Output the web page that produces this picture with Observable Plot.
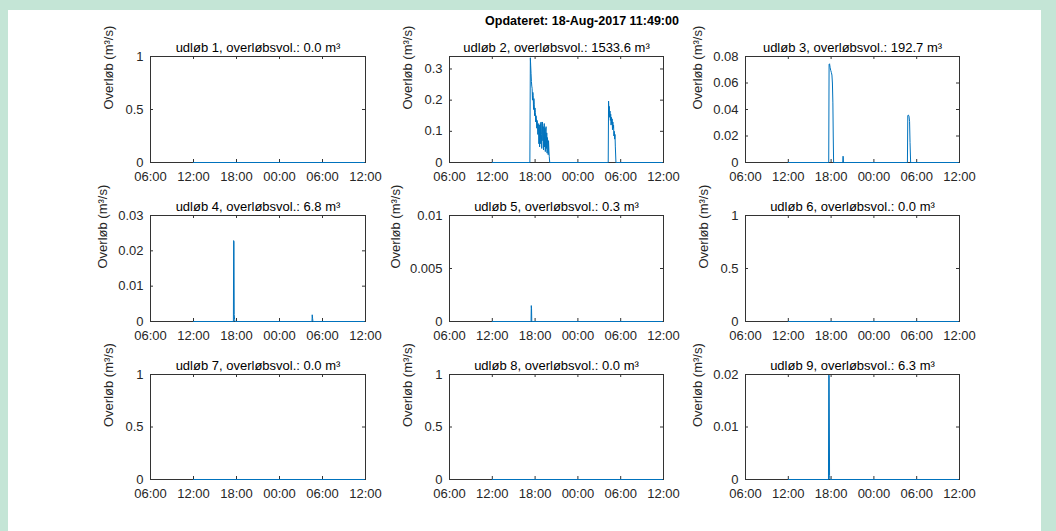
<!DOCTYPE html>
<html>
<head>
<meta charset="utf-8">
<script src="https://cdn.jsdelivr.net/npm/d3@7"></script>
<script src="https://cdn.jsdelivr.net/npm/@observablehq/plot@0.6"></script>
<style>
html, body { margin: 0; padding: 0; background: #c4e5d6; }
#page { position: relative; width: 1056px; height: 531px; overflow: hidden; background: #c4e5d6; font-family: "Liberation Sans", Arial, sans-serif; }
#sheet { position: absolute; left: 8px; top: 10px; width: 1033px; height: 521px; background: #ffffff; }
#maintitle { position: absolute; top: 14px; left: 0; width: 1164px; text-align: center; font-weight: bold; font-size: 12.5px; color: #000; }
.panel { position: absolute; }
</style>
</head>
<body>
<div id="page">
  <div id="sheet"></div>
  <div id="maintitle"></div>
</div>
<script>
// ---------- data ----------
const figureTitle = "Opdateret: 18-Aug-2017 11:49:00";
const panelNames = ["udløb 1", "udløb 2", "udløb 3", "udløb 4", "udløb 5", "udløb 6", "udløb 7", "udløb 8", "udløb 9"];
const overflowVolumes = ["0.0", "1533.6", "192.7", "6.8", "0.3", "0.0", "0.0", "0.0", "6.3"];
const yAxisLabel = "Overløb (m³/s)";

const xTickTimes = ["17 06:00", "17 12:00", "17 18:00", "18 00:00", "18 06:00", "18 12:00"];
const xTickLabels = ["06:00", "12:00", "18:00", "00:00", "06:00", "12:00"];

const yDomainMax = [1, 0.34, 0.08, 0.03, 0.01, 1, 1, 1, 0.02];
const yTickValues = [
  [0, 0.5, 1],
  [0, 0.1, 0.2, 0.3],
  [0, 0.02, 0.04, 0.06, 0.08],
  [0, 0.01, 0.02, 0.03],
  [0, 0.005, 0.01],
  [0, 0.5, 1],
  [0, 0.5, 1],
  [0, 0.5, 1],
  [0, 0.01, 0.02]
];
const yTickLabels = [
  ["0", "0.5", "1"],
  ["0", "0.1", "0.2", "0.3"],
  ["0", "0.02", "0.04", "0.06", "0.08"],
  ["0", "0.01", "0.02", "0.03"],
  ["0", "0.005", "0.01"],
  ["0", "0.5", "1"],
  ["0", "0.5", "1"],
  ["0", "0.5", "1"],
  ["0", "0.01", "0.02"]
];

// times are "day HH:MM" in August 2017
const flatTimes = ["17 12:00", "18 11:49"];
const flatValues = [0, 0];

const udlob2Times = ["17 12:00", "17 17:16", "17 17:20", "17 17:23", "17 17:26", "17 17:29", "17 17:32", "17 17:35", "17 17:38", "17 17:41",
  "17 17:44", "17 17:47", "17 17:50", "17 17:53", "17 17:56", "17 17:59", "17 18:02", "17 18:05", "17 18:08", "17 18:11",
  "17 18:14", "17 18:17", "17 18:20", "17 18:23", "17 18:26", "17 18:29", "17 18:32", "17 18:35", "17 18:38", "17 18:41",
  "17 18:44", "17 18:47", "17 18:50", "17 18:53", "17 18:56", "17 18:59", "17 19:02", "17 19:05", "17 19:08", "17 19:11",
  "17 19:14", "17 19:17", "17 19:20", "17 19:23", "17 19:26", "17 19:29", "17 19:32", "17 19:35", "17 19:38", "17 19:41",
  "17 19:44", "17 19:47", "17 19:50", "17 19:53", "17 19:56", "17 19:59", "17 20:03",
  "18 04:15", "18 04:18", "18 04:21", "18 04:24", "18 04:27", "18 04:30", "18 04:33", "18 04:36", "18 04:39", "18 04:42",
  "18 04:45", "18 04:48", "18 04:51", "18 04:54", "18 04:57", "18 05:00", "18 05:03", "18 05:06", "18 05:09", "18 05:12",
  "18 05:15", "18 05:20", "18 11:49"];
const udlob2Values = [0, 0, 0.336, 0.31, 0.285, 0.26, 0.245, 0.238, 0.2, 0.225,
  0.215, 0.17, 0.205, 0.185, 0.15, 0.175, 0.16, 0.13, 0.15, 0.14,
  0.11, 0.135, 0.125, 0.09, 0.125, 0.115, 0.06, 0.12, 0.05, 0.115,
  0.125, 0.06, 0.13, 0.09, 0.045, 0.12, 0.13, 0.07, 0.115, 0.04,
  0.105, 0.125, 0.05, 0.11, 0.035, 0.1, 0.115, 0.045, 0.095, 0.03,
  0.08, 0.06, 0.025, 0.07, 0.04, 0.02, 0,
  0, 0.197, 0.165, 0.18, 0.145, 0.165, 0.135, 0.155, 0.12, 0.145,
  0.125, 0.14, 0.105, 0.13, 0.11, 0.12, 0.085, 0.1, 0.075, 0.09,
  0.05, 0, 0];

const udlob3Times = ["17 12:00", "17 17:40", "17 17:43", "17 17:47", "17 17:52", "17 17:57", "17 18:02", "17 18:07", "17 18:11", "17 18:15",
  "17 18:18", "17 18:21", "17 19:38", "17 19:40", "17 19:42", "17 19:44",
  "18 04:42", "18 04:45", "18 04:50", "18 04:55", "18 05:00", "18 05:04", "18 05:09", "18 11:49"];
const udlob3Values = [0, 0, 0.074, 0.0745, 0.0715, 0.0695, 0.068, 0.066, 0.06, 0.045,
  0.02, 0, 0, 0.0048, 0.0045, 0,
  0, 0.0355, 0.0358, 0.035, 0.031, 0.015, 0, 0];

const udlob4Times = ["17 12:00", "17 17:34", "17 17:36", "17 17:39", "17 17:41", "17 17:44", "17 17:47", "18 04:32", "18 04:34", "18 04:37", "18 04:40", "18 11:49"];
const udlob4Values = [0, 0, 0.0229, 0.0226, 0.002, 0.0006, 0, 0, 0.0019, 0.0009, 0, 0];

const udlob5Times = ["17 12:00", "17 17:26", "17 17:28", "17 17:30", "17 17:32", "18 11:49"];
const udlob5Values = [0, 0, 0.0015, 0.0012, 0, 0];

const udlob9Times = ["17 12:00", "17 17:38", "17 17:40", "17 17:44", "17 17:47", "17 17:50", "18 11:49"];
const udlob9Values = [0, 0, 0.0199, 0.0198, 0.0008, 0, 0];

const seriesTimes = [flatTimes, udlob2Times, udlob3Times, udlob4Times, udlob5Times, flatTimes, flatTimes, flatTimes, udlob9Times];
const seriesValues = [flatValues, udlob2Values, udlob3Values, udlob4Values, udlob5Values, flatValues, flatValues, flatValues, udlob9Values];

// ---------- layout ----------
const colLefts = [150, 449, 745];
const colWidths = [215, 214, 214];
const rowTops = [56, 215, 374];
const rowHeights = [106, 106, 105];

const parseT = s => new Date("2017-08-" + s.replace(" ", "T") + ":00Z");
const axisColor = "#333333";
const lineColor = "#0072BD";
const fontFamily = "'Liberation Sans', Arial, Helvetica, sans-serif";

const page = document.getElementById("page");
document.getElementById("maintitle").textContent = figureTitle;

const xt = xTickTimes.map(parseT);

for (let i = 0; i < 9; i++) {
  const r = Math.floor(i / 3), c = i % 3;
  const W = colWidths[c], H = rowHeights[r];
  const ML = 80, MR = 12, MT = 28, MB = 34;
  const data = seriesTimes[i].map((t, k) => ({t: parseT(t), v: seriesValues[i][k]}));
  const yt = yTickValues[i];
  const maxLabelLen = d3.max(yTickLabels[i], s => s.length);
  const labelOffset = 23 + 6.2 * maxLabelLen;
  const title = `${panelNames[i]}, overløbsvol.: ${overflowVolumes[i]} m³`;
  const svg = Plot.plot({
    width: ML + W + MR,
    height: MT + H + MB,
    marginLeft: ML, marginRight: MR, marginTop: MT, marginBottom: MB,
    style: {fontFamily, fontSize: "13px", color: axisColor, background: "transparent", overflow: "visible"},
    x: {type: "utc", domain: [xt[0], xt[xt.length - 1]]},
    y: {type: "linear", domain: [0, yDomainMax[i]]},
    marks: [
      Plot.axisX({ticks: xt, tickSize: 0, tickPadding: 9, label: null, fill: "#262626",
        tickFormat: d => xTickLabels[xt.findIndex(t => +t === +d)]}),
      Plot.axisY({ticks: yt, tickSize: 0, tickPadding: 7, label: null, fill: "#262626",
        tickFormat: d => yTickLabels[i][yt.indexOf(d)]}),
      Plot.frame({stroke: axisColor, strokeWidth: 1}),
      Plot.tickX(xt, {x: d => d, insetTop: H - 3, stroke: axisColor}),
      Plot.tickX(xt, {x: d => d, insetBottom: H - 3, stroke: axisColor}),
      Plot.tickY(yt, {y: d => d, insetRight: W - 3, stroke: axisColor}),
      Plot.tickY(yt, {y: d => d, insetLeft: W - 3, stroke: axisColor}),
      Plot.line(data, {x: "t", y: "v", stroke: lineColor, strokeWidth: 1}),
      Plot.text([title], {frameAnchor: "top", dy: -5, lineAnchor: "bottom", fontSize: 13, fill: "#000"}),
      Plot.text([yAxisLabel], {frameAnchor: "left", rotate: -90, dx: -labelOffset, fontSize: 13, fill: "#262626"})
    ]
  });
  svg.classList.add("panel");
  svg.style.position = "absolute";
  svg.style.left = (colLefts[c] - ML) + "px";
  svg.style.top = (rowTops[r] - MT) + "px";
  svg.style.maxWidth = "none";
  page.appendChild(svg);
}
</script>
</body>
</html>
